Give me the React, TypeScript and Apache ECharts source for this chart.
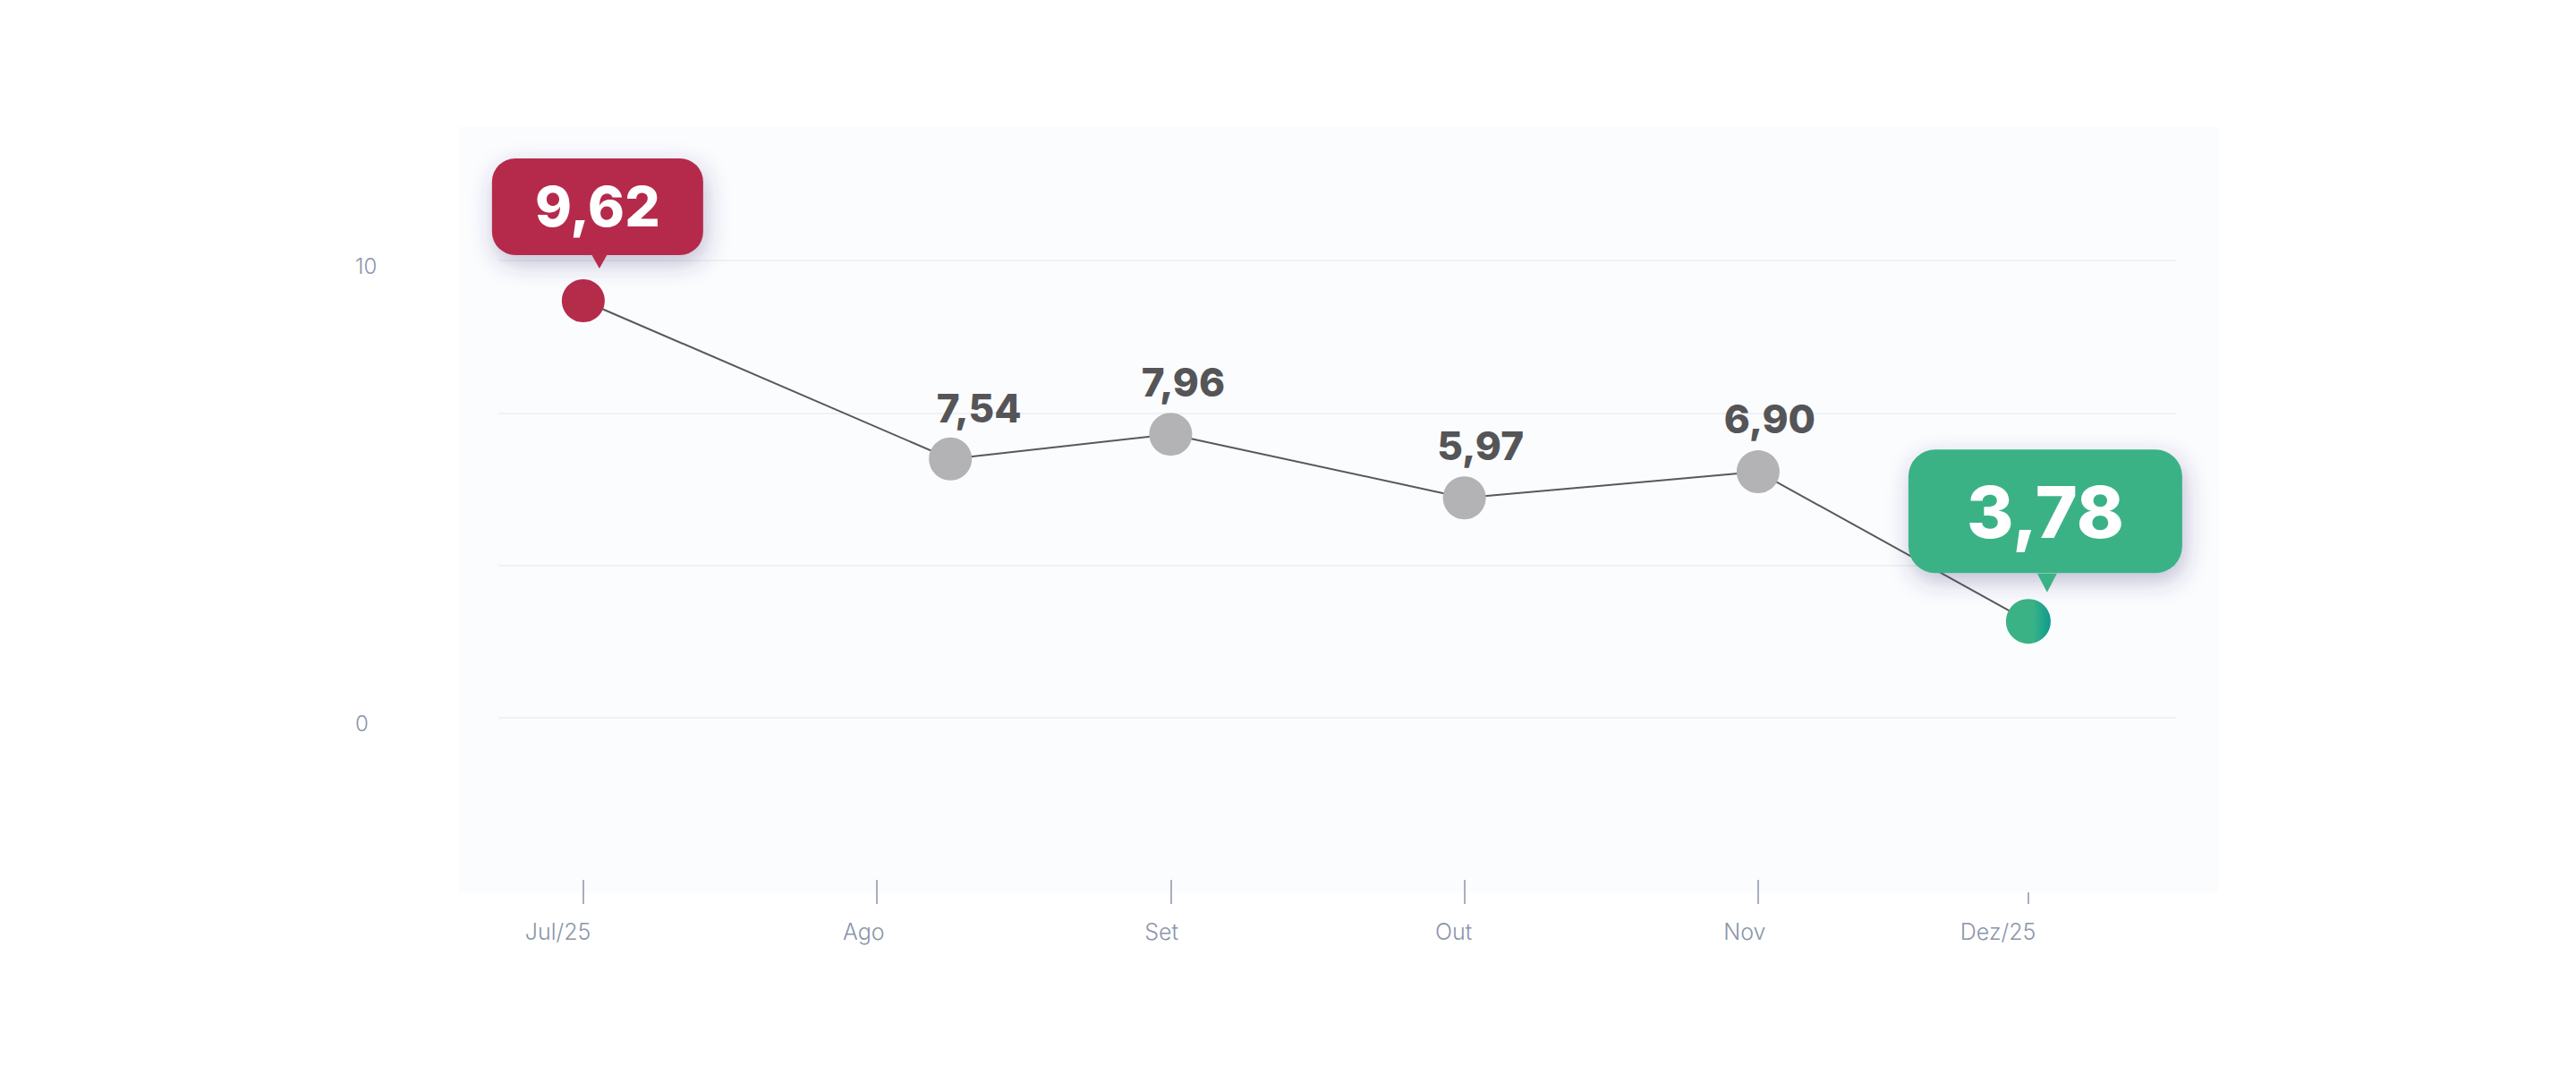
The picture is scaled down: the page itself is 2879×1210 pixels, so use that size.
import { useEffect, useRef } from 'react'
import * as echarts from 'echarts'

// month labels and where their ticks sit (in month units from Jul/25)
const months = ['Jul/25', 'Ago', 'Set', 'Out', 'Nov', 'Dez/25']
const monthTicks = [0, 1, 2, 3, 4, 4.92]
// x position of each point (Ago point is drawn a bit past its tick in the original)
const pointMonths = [0, 1.25, 2, 3, 4, 4.92]
// plotted height of each point on the 0..10 scale
const plotValues = [9.12, 5.66, 6.2, 4.81, 5.38, 2.11]
// numbers printed above each point
const shownValues = [9.62, 7.54, 7.96, 5.97, 6.9, 3.78]
const yLabels = [0, 10]

const RED = '#b52c4b'
const GREEN = '#3bb286'
const GREY_DOT = '#b3b3b5'
const AXIS_TEXT = '#8b95a9'
const FONT = 'Inter, "Open Sans", sans-serif'

// label offsets for the grey points (x, y from dot centre)
const greyLabelOffsets: [number, number][] = [
  [0, 0],
  [32, -57],
  [14, -58],
  [18, -58],
  [13, -59],
  [0, 0],
]

// month labels end a few px right of their tick
const LABEL_NUDGE = 0.026

const fmt = (v: number) => v.toFixed(2).replace('.', ',')

export default function App() {
  const chartRef = useRef<HTMLDivElement>(null)

  useEffect(() => {
    if (!chartRef.current) return
    const chart = echarts.init(chartRef.current, null, { renderer: 'svg' })

    const last = pointMonths.length - 1
    const shadow = {
      shadowBlur: 26,
      shadowColor: 'rgba(60, 56, 120, 0.32)',
      shadowOffsetX: 3,
      shadowOffsetY: 9,
    }

    const data = pointMonths.map((x, i) => {
      if (i === 0) {
        return {
          value: [x, plotValues[i]],
          symbolSize: 48,
          itemStyle: { color: RED },
          label: {
            show: true,
            position: 'top',
            distance: 27,
            offset: [16, 0],
            formatter: () => fmt(shownValues[i]),
            color: '#ffffff',
            fontFamily: FONT,
            fontSize: 62,
            fontWeight: 800,
            backgroundColor: RED,
            borderRadius: 26,
            width: 236,
            height: 108,
            lineHeight: 108,
            align: 'center',
            ...shadow,
          },
        }
      }
      if (i === last) {
        return {
          value: [x, plotValues[i]],
          symbolSize: 50,
          itemStyle: {
            color: new echarts.graphic.LinearGradient(0, 0, 1, 0, [
              { offset: 0, color: GREEN },
              { offset: 0.6, color: GREEN },
              { offset: 1, color: '#0c9b8f' },
            ]),
          },
          label: {
            show: true,
            position: 'top',
            distance: 29,
            offset: [19, 0],
            formatter: () => fmt(shownValues[i]),
            color: '#ffffff',
            fontFamily: FONT,
            fontSize: 80,
            fontWeight: 800,
            backgroundColor: GREEN,
            borderRadius: 30,
            width: 306,
            height: 138,
            lineHeight: 138,
            align: 'center',
            ...shadow,
          },
        }
      }
      return {
        value: [x, plotValues[i]],
        symbolSize: 48,
        label: {
          show: true,
          position: 'inside',
          offset: greyLabelOffsets[i],
          formatter: () => fmt(shownValues[i]),
          color: '#555557',
          fontFamily: FONT,
          fontSize: 44,
          fontWeight: 800,
        },
      }
    })

    const xMin = -0.289
    const xMax = 5.423

    const option: any = {
      animation: false,
      backgroundColor: '#ffffff',
      graphic: [
        {
          type: 'rect',
          z: -10,
          silent: true,
          shape: { x: 512, y: 142, width: 1967, height: 855 },
          style: { fill: '#fbfcfe' },
        },
      ],
      grid: {
        left: 557,
        right: 447,
        top: 291,
        bottom: 408,
      },
      xAxis: [
        {
          type: 'value',
          position: 'bottom',
          min: xMin,
          max: xMax,
          offset: 208,
          axisLine: { show: false, onZero: false },
          splitLine: { show: false },
          axisTick: {
            show: true,
            inside: true,
            length: 27,
            customValues: monthTicks.slice(0, last),
            lineStyle: { color: AXIS_TEXT, width: 1.5 },
          },
          axisLabel: {
            customValues: monthTicks.map((t) => t + LABEL_NUDGE),
            formatter: (v: number) => {
              const idx = monthTicks.findIndex((t) => Math.abs(t + LABEL_NUDGE - v) < 1e-6)
              return idx >= 0 ? months[idx] : ''
            },
            align: 'right',
            margin: 18,
            color: AXIS_TEXT,
            fontFamily: FONT,
            fontSize: 25,
            fontWeight: 300,
          },
        },
        {
          type: 'value',
          position: 'bottom',
          min: xMin,
          max: xMax,
          offset: 208,
          axisLine: { show: false, onZero: false },
          splitLine: { show: false },
          axisLabel: { show: false },
          axisTick: {
            show: true,
            inside: true,
            length: 13,
            customValues: [monthTicks[last]],
            lineStyle: { color: AXIS_TEXT, width: 1.5 },
          },
        },
      ],
      yAxis: {
        type: 'value',
        min: 0,
        max: 10,
        interval: 10 / 3,
        axisLine: { show: false },
        axisTick: { show: false },
        splitLine: { lineStyle: { color: '#eceef2', width: 1.5 } },
        axisLabel: {
          customValues: yLabels,
          align: 'left',
          verticalAlign: 'top',
          lineHeight: 12,
          margin: 160,
          color: AXIS_TEXT,
          fontFamily: FONT,
          fontSize: 24,
          fontWeight: 300,
        },
      },
      series: [
        {
          type: 'line',
          data,
          symbol: 'circle',
          showSymbol: true,
          itemStyle: { color: GREY_DOT },
          lineStyle: { color: '#58585a', width: 2 },
          emphasis: { disabled: true },
          markPoint: {
            silent: true,
            label: { show: false },
            data: [
              {
                coord: [pointMonths[0], plotValues[0]],
                symbol: 'path://M0,0L20,0L10,16Z',
                symbolSize: [18, 16],
                symbolOffset: [18, -44],
                itemStyle: { color: RED },
              },
              {
                coord: [pointMonths[last], plotValues[last]],
                symbol: 'path://M0,0L20,0L10,18Z',
                symbolSize: [22, 21],
                symbolOffset: [21, -43],
                itemStyle: { color: GREEN },
              },
            ],
          },
        },
      ],
    }

    chart.setOption(option)

    return () => {
      chart.dispose()
    }
  }, [])

  return (
    <div
      ref={chartRef}
      style={{ position: 'absolute', left: 0, top: 0, width: 2879, height: 1210 }}
    />
  )
}
